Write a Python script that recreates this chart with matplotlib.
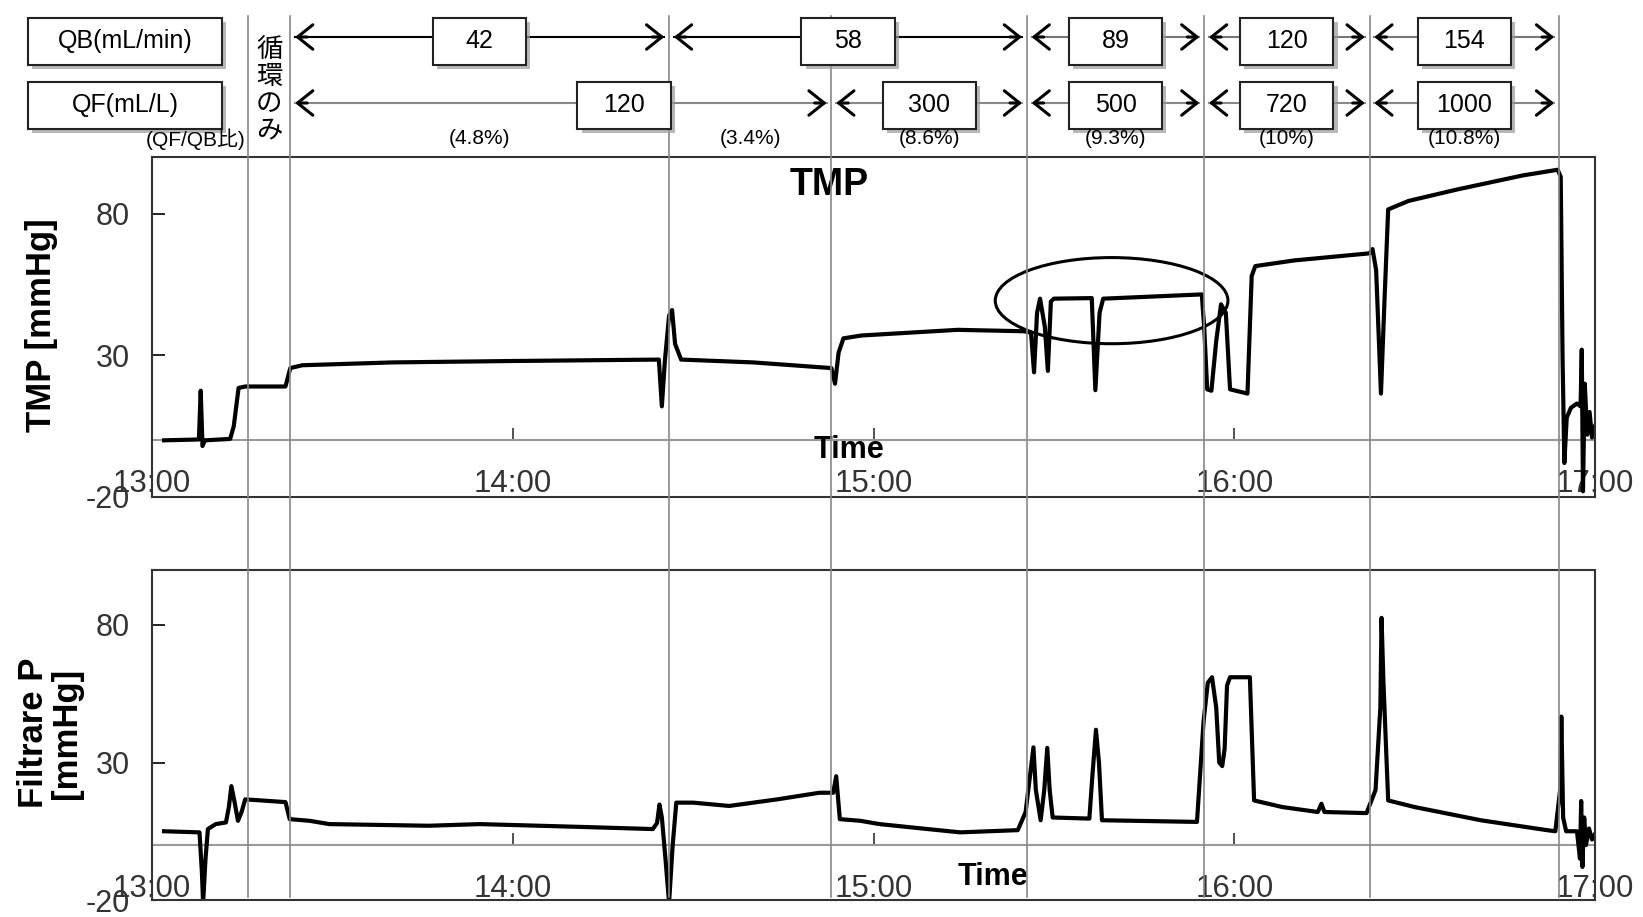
import numpy as np
import matplotlib.pyplot as plt
import matplotlib.patheffects as pe
from matplotlib.patches import Rectangle, Ellipse
from matplotlib.transforms import blended_transform_factory

#% DONNEES (temps en minutes apres 13:00)
tmp_t = [2.0, 7.8, 8.1, 8.4, 8.8, 13.0, 13.6, 14.4, 15.5, 22.2, 23.0, 25, 40, 60,
         84.3, 84.8, 85.3, 86.0, 86.5, 87.0, 88.0, 100, 113.0, 113.6, 114.2, 115.0,
         118, 134, 145.0, 146.2, 146.7, 147.2, 147.7, 148.5, 149.0, 149.5, 150,
         156.3, 156.9, 157.6, 158.2, 174.6, 175.0, 175.5, 176.2, 177.0, 177.8,
         178.6, 179.3, 182.2, 182.9, 183.5, 190, 202.5, 203.0, 203.6, 204.4, 205.0,
         205.6, 209, 217, 228, 233.8, 234.3, 234.6, 234.9, 235.3, 236.0, 237.0,
         237.6, 237.8, 238.0, 238.3, 238.7, 239.1, 239.5, 240]
tmp_v = [0.0, 0.3, 17.5, -2.0, 0.0, 0.5, 5, 18.5, 19.0, 19.0, 25.5, 26.5, 27.5, 28.0,
         28.5, 12, 28, 44, 46, 34, 28.5, 27.5, 25.5, 20, 31, 36,
         37, 39, 38.5, 38, 24.0, 45, 50, 40, 24.5, 49, 50,
         50.2, 17.7, 45, 50, 51.5, 40, 18, 17.5, 35, 48,
         45, 18, 16.5, 58, 61.5, 63.5, 66, 67.5, 60, 16.5, 50,
         81.5, 84.5, 88.5, 93.5, 95.5, 93, 30, -8, 8, 11.5, 13,
         12, 32, -18, 20, 2, 10, 1, 5]

fp_t = [2.0, 7.9, 8.3, 8.5, 8.9, 9.3, 10.6, 12.3, 12.8, 13.2, 13.7, 14.3, 14.9, 15.5,
        22.2, 22.9, 26.2, 29.5, 46, 54.5, 71, 83.3, 84.0, 84.4, 84.8, 85.4, 86.0,
        86.6, 87.2, 90, 96, 104, 111, 113.3, 113.8, 114.4, 117.8, 121, 129, 134.4,
        144, 145.3, 146.6, 147.0, 147.8, 148.4, 148.9, 149.3, 149.8, 155.9, 156.4,
        157.0, 157.5, 158.0, 173.8, 174.9, 175.6, 176.3, 177.0, 177.5, 178.0, 178.4,
        178.8, 179.3, 182.6, 183.3, 188, 193.9, 194.5, 195, 202, 203.5, 204.3, 204.5,
        204.8, 205.6, 210, 221, 232, 233.4, 234.2, 234.4, 234.7, 235.2, 237.0, 237.5,
        237.7, 237.9, 238.2, 238.5, 239.0, 239.5, 240]
fp_v = [5.0, 4.6, -10, -21, -5, 5.8, 7.6, 8.2, 14, 21.4, 16, 8.8, 12, 16.6,
        15.6, 9.4, 8.8, 7.6, 7.0, 7.6, 6.6, 5.8, 8, 14.7, 10, -5, -21,
        0, 15.4, 15.4, 14.2, 16.6, 19, 19, 25, 9.4, 8.8, 7.6, 5.8, 4.6,
        5.4, 12, 35.5, 20, 9, 20, 35.3, 20, 10, 9.6, 25,
        41.9, 30, 9, 8.4, 45, 59, 61, 50, 30, 28.7, 35,
        58, 61, 61, 16.2, 13.8, 12, 15, 12, 11.6, 20, 50, 82.6,
        60, 16.2, 13.8, 9.0, 5.4, 5, 20, 46.7, 10, 5, 5, -5,
        16, -8, 10, 0, 6, 2, 4]

event_lines = [16, 23, 86, 113, 145.5, 175, 202.5, 234]
qb_values = ['42', '58', '89', '120', '154']
qb_edges = [23, 86, 145.5, 175, 202.5, 234]
qf_values = ['120', '300', '500', '720', '1000']
qf_edges = [23, 113, 145.5, 175, 202.5, 234]
ratio_labels = ['(4.8%)', '(3.4%)', '(8.6%)', '(9.3%)', '(10%)', '(10.8%)']
ratio_edges = [23, 86, 113, 145.5, 175, 202.5, 234]
hour_ticks = [0, 60, 120, 180, 240]
hour_labels = ['13:00', '14:00', '15:00', '16:00', '17:00']
y_ticks = [-20, 30, 80]

#% MISE EN PAGE
W, H = 1643, 917
plt.rcParams['font.family'] = ['Liberation Sans', 'Noto Sans CJK JP', 'DejaVu Sans']
plt.rcParams['axes.unicode_minus'] = False
fig = plt.figure(figsize=(W / 100, H / 100), dpi=100)

ax1 = fig.add_axes([152 / W, 1 - 497 / H, 1443 / W, 340 / H])
ax2 = fig.add_axes([152 / W, 1 - 900 / H, 1443 / W, 330 / H])

def style_axes(ax, t, v):
    ax.plot(t, v, color='black', lw=3.0, solid_joinstyle='round')
    ax.set_xlim(0, 240)
    ax.set_ylim(-20, 100)
    ax.set_yticks(y_ticks)
    ax.tick_params(axis='y', direction='in', length=9, width=1.2, pad=16,
                   labelsize=22, labelcolor='#333')
    ax.set_xticks([])
    for s in ax.spines.values():
        s.set_linewidth(1.5)
        s.set_color('#333')
    # axe du temps a zero (comme Excel)
    sec = ax.secondary_xaxis(20 / 120)
    sec.set_xticks(hour_ticks, hour_labels)
    sec.tick_params(direction='in', length=9, width=1.2, pad=21, labelsize=22.5,
                    labelcolor='#333', color='#333')
    for s in sec.spines.values():
        s.set_color('#999')
        s.set_linewidth(1.5)

style_axes(ax1, tmp_t, tmp_v)
style_axes(ax2, fp_t, fp_v)

ax1.text(0.469, 0.918, 'TMP', transform=ax1.transAxes, ha='center', va='center',
         fontsize=27, fontweight='bold')
ax1.text(0.483, 0.139, 'Time', transform=ax1.transAxes, ha='center', va='center',
         fontsize=22, fontweight='bold')
ax2.text(0.583, 0.07, 'Time', transform=ax2.transAxes, ha='center', va='center',
         fontsize=22, fontweight='bold')
ax1.add_patch(Ellipse((159.6, 49.3), 38.7, 30.4, fill=False, lw=2.2, color='black'))

#% EN-TETE (coordonnees pixels, x en temps)
ov = fig.add_axes([0, 0, 1, 1], zorder=5)
ov.set_xlim(0, W)
ov.set_ylim(H, 0)
ov.axis('off')
ov.patch.set_visible(False)
trans = blended_transform_factory(ax1.transData, ov.transData)

for t in event_lines:
    ov.plot([t, t], [16, 897], transform=trans, color='#888', lw=1.2)

ov.text(42, 325, 'TMP [mmHg]', rotation=90, ha='center', va='center',
        fontsize=25, fontweight='bold')
ov.text(50, 733, 'Filtrare P\n[mmHg]', rotation=90, ha='center', va='center',
        fontsize=25, fontweight='bold', linespacing=1.0)

shadow = [pe.SimplePatchShadow(offset=(3, -3), shadow_rgbFace='#999', alpha=0.7),
          pe.Normal()]

def box(x, y, w, h, txt, tr, size=18):
    r = Rectangle((x - w / 2, y - h / 2), w, h, transform=tr, facecolor='white',
                  edgecolor='#222', lw=1.5, zorder=3)
    r.set_path_effects(shadow)
    ov.add_patch(r)
    ov.text(x, y, txt, transform=tr, ha='center', va='center', fontsize=size, zorder=4)

box(125, 41, 194, 47, 'QB(mL/min)', ov.transData)
box(125, 105, 194, 47, 'QF(mL/L)', ov.transData)

def head(t_from, t_to, y):
    ov.annotate('', xy=(t_to, y), xytext=(t_from, y), xycoords=trans,
                textcoords=trans,
                arrowprops=dict(arrowstyle='->,head_length=0.5,head_width=0.4',
                                color='black', lw=2.2, shrinkA=0, shrinkB=0,
                                mutation_scale=22))

def arrow(t0, t1, y, col):
    a, b = t0 + 0.8, t1 - 0.8
    ov.plot([a, b], [y, y], transform=trans, color=col, lw=1.5)
    head(a + 2.0, a, y)
    head(b - 2.0, b, y)

for i, val in enumerate(qb_values):
    a, b = qb_edges[i], qb_edges[i + 1]
    arrow(a, b, 37, 'black' if i < 2 else '#777')
    box((a + b) / 2, 41, 15.5, 47, val, trans)

qf_box_shift = [10.5, 0, 0, 0, 0]
for i, val in enumerate(qf_values):
    a, b = qf_edges[i], qf_edges[i + 1]
    arrow(a, b, 103, '#888')
    box((a + b) / 2 + qf_box_shift[i], 105, 15.5, 47, val, trans)

for i, lab in enumerate(ratio_labels):
    ov.text((ratio_edges[i] + ratio_edges[i + 1]) / 2, 139, lab, transform=trans,
            ha='center', va='center', fontsize=15)

ov.text(196, 139, '(QF/QB比)', ha='center', va='center', fontsize=15)
ov.text(19.5, 90, '循\n環\nの\nみ', transform=trans, ha='center', va='center',
        fontsize=19, linespacing=1.0,
        family=['Noto Sans CJK JP', 'DejaVu Sans'])

fig.savefig('out.png', dpi=100)
